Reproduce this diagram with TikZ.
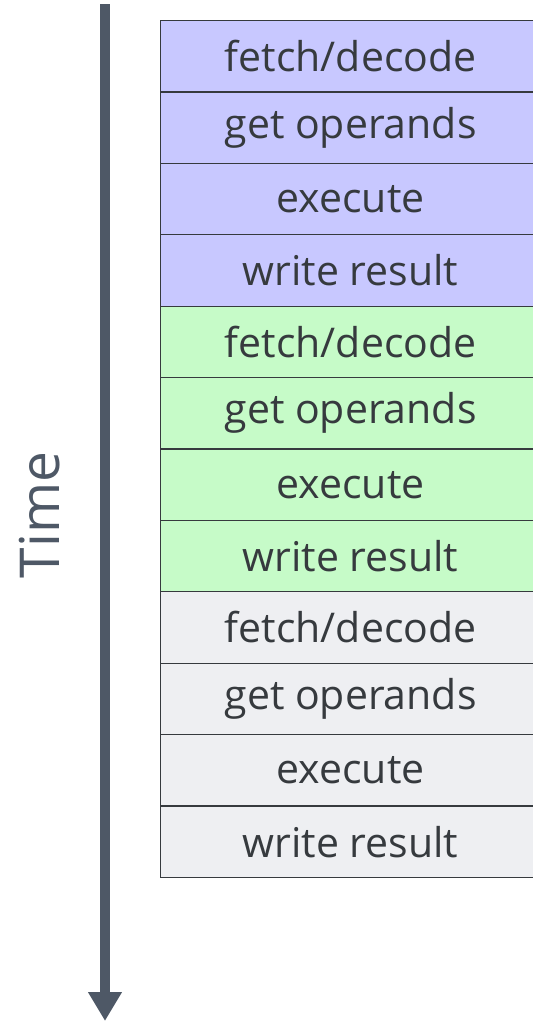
\documentclass[tikz,border=0pt]{standalone}
\usepackage{fontspec}
\setmainfont{Open Sans}
\usepackage{tikz}
\usetikzlibrary{arrows.meta,positioning}

\definecolor{stepblue}{HTML}{C8C8FF}
\definecolor{stepgreen}{HTML}{C6FBC8}
\definecolor{stepgray}{HTML}{EEEFF2}
\definecolor{timegray}{HTML}{4E5866}
\definecolor{txtgray}{HTML}{363A3E}

\tikzset{
  stage/.style={draw=txtgray,line width=1.2pt,minimum width=380pt,minimum height=71.4pt,
    anchor=north west,inner sep=0pt,text=txtgray,font=\fontsize{41}{44}\selectfont},
}

\begin{document}
\begin{tikzpicture}[x=1pt,y=-1pt]
\useasboundingbox (0,0) rectangle (533,1021);
\foreach \lab [count=\i from 0] in {fetch/decode,get operands,execute,write result,
    fetch/decode,get operands,execute,write result,
    fetch/decode,get operands,execute,write result}{
  \pgfmathtruncatemacro{\grp}{int(\i/4)}
  \ifcase\grp \def\fil{stepblue}\or \def\fil{stepgreen}\else \def\fil{stepgray}\fi
  \node[stage,fill=\fil] (s\i) at (160,20+71.4*\i) {\lab};
}

% time axis
\coordinate (ttop) at (105,4);
\coordinate (tbot) at (105,1021);
\draw[timegray,line width=10pt,-{Triangle[width=32pt,length=29pt]}] (ttop) -- (tbot);
\node[rotate=90,text=timegray,font=\fontsize{55}{58}\selectfont] (time) at (40,515) {Time};
\end{tikzpicture}
\end{document}
